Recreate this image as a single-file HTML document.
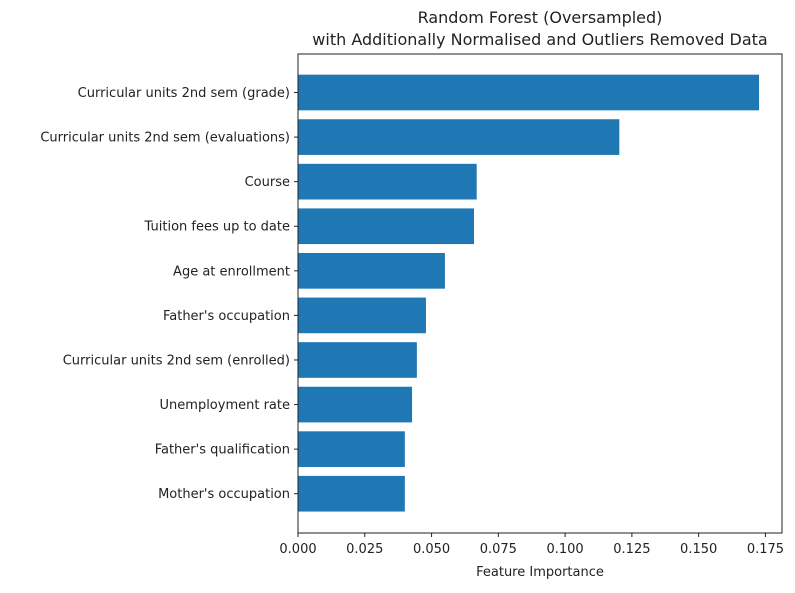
<!DOCTYPE html>
<html><head><meta charset="utf-8"><style>
body{margin:0;background:#fff;}
svg text{font-family:"DejaVu Sans","Liberation Sans",sans-serif;fill:#222;}
</style></head><body>
<svg id="chart" width="795" height="588" xmlns="http://www.w3.org/2000/svg">
<text x="540" y="23" text-anchor="middle" font-size="16">Random Forest (Oversampled)</text>
<text x="540" y="45" text-anchor="middle" font-size="16">with Additionally Normalised and Outliers Removed Data</text>
<g id="bars"></g><g id="yt"></g><g id="xt"></g>
<rect x="298" y="54" width="484" height="479" fill="none" stroke="#222" stroke-width="1"/>
<text x="540" y="576" text-anchor="middle" font-size="13">Feature Importance</text>
</svg>
<script>
const categories=["Curricular units 2nd sem (grade)","Curricular units 2nd sem (evaluations)","Course","Tuition fees up to date","Age at enrollment","Father's occupation","Curricular units 2nd sem (enrolled)","Unemployment rate","Father's qualification","Mother's occupation"];
const importance=[0.1726,0.1203,0.0669,0.0659,0.0550,0.0479,0.0445,0.0427,0.0400,0.0400];
const xTicks=[0,0.025,0.05,0.075,0.1,0.125,0.15,0.175];
const xTickLabels=["0.000","0.025","0.050","0.075","0.100","0.125","0.150","0.175"];
const NS="http://www.w3.org/2000/svg";
const L=298,R=782,T=54,B=533,xmax=0.1812;
const xs=v=>L+v/xmax*(R-L);
const step=44.58;
const yc=i=>92.5+i*step;
const bh=0.8*step;
const bars=document.getElementById('bars'),yt=document.getElementById('yt'),xt=document.getElementById('xt');
function mk(t,a){const e=document.createElementNS(NS,t);for(const k in a)e.setAttribute(k,a[k]);return e;}
categories.forEach((c,i)=>{
 const r=mk('rect',{x:L,y:yc(i)-bh/2,width:xs(importance[i])-L,height:bh,fill:'#1f77b4'});
 
 
 bars.appendChild(r);
 const tk=mk('line',{x1:L-4,x2:L,y1:yc(i),y2:yc(i),stroke:'#222'});
 
 
 yt.appendChild(tk);
 const t=mk('text',{x:L-8,y:yc(i)+4.5,'text-anchor':'end','font-size':'13'});
 t.textContent=c;
 
 
 yt.appendChild(t);
});
xTicks.forEach((v,i)=>{
 const tk=mk('line',{x1:xs(v),x2:xs(v),y1:B,y2:B+4,stroke:'#222'});
 
 
 xt.appendChild(tk);
 const t=mk('text',{x:xs(v),y:B+20,'text-anchor':'middle','font-size':'13'});
 t.textContent=xTickLabels[i];
 
 
 xt.appendChild(t);
});
</script>
</body></html>
